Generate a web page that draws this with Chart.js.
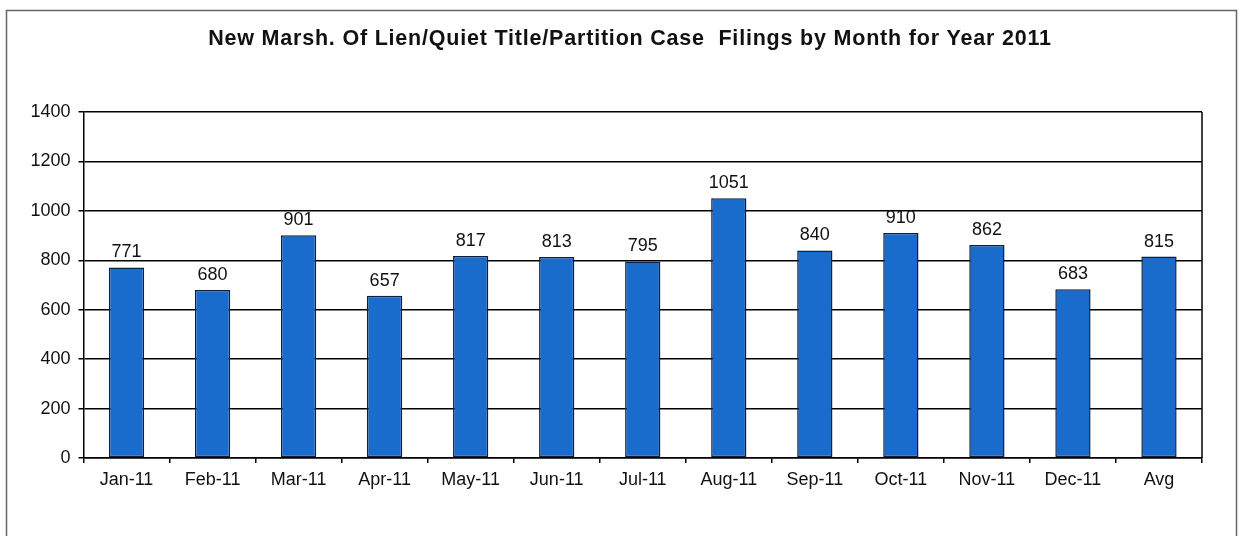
<!DOCTYPE html>
<html>
<head>
<meta charset="utf-8">
<style>
  html, body { margin: 0; padding: 0; background: #fff; }
  #wrap { position: relative; width: 1243px; height: 536px; }
</style>
<script src="https://cdn.jsdelivr.net/npm/chart.js@4/dist/chart.umd.min.js"></script>
</head>
<body>
<div id="wrap"><canvas id="c" width="1243" height="536"></canvas></div>
<script>
const titleText = 'New Marsh. Of Lien/Quiet Title/Partition Case  Filings by Month for Year 2011';
const months = ['Jan-11','Feb-11','Mar-11','Apr-11','May-11','Jun-11','Jul-11','Aug-11','Sep-11','Oct-11','Nov-11','Dec-11','Avg'];
const filings = [771, 680, 901, 657, 817, 813, 795, 1051, 840, 910, 862, 683, 815];
const yMax = 1400;
const yStep = 200;

const fontFam = '"Liberation Sans", Arial, sans-serif';

// outer frame, title, plot frame
const frames = {
  id: 'frames',
  beforeDraw(chart){
    const ctx = chart.ctx;
    ctx.save();
    ctx.strokeStyle = '#666';
    ctx.lineWidth = 1.5;
    ctx.strokeRect(6.5, 10.5, 1230, 600);
    ctx.font = 'bold 21.5px ' + fontFam;
    ctx.letterSpacing = '0.8px';
    ctx.fillStyle = '#111';
    ctx.textAlign = 'center';
    ctx.textBaseline = 'middle';
    ctx.fillText(titleText, 630, 39);
    ctx.restore();
  },
  afterDraw(chart){
    const a = chart.chartArea, ctx = chart.ctx;
    ctx.save();
    ctx.strokeStyle = '#000';
    ctx.lineWidth = 1.5;
    ctx.beginPath();
    ctx.moveTo(a.right, a.top);
    ctx.lineTo(a.right, a.bottom);
    ctx.stroke();
    ctx.restore();
  }
};

// value labels above bars
const valueLabels = {
  id: 'valueLabels',
  afterDatasetsDraw(chart){
    const ctx = chart.ctx;
    const meta = chart.getDatasetMeta(0);
    ctx.save();
    ctx.font = '18px ' + fontFam;
    ctx.fillStyle = '#111';
    ctx.textAlign = 'center';
    ctx.textBaseline = 'bottom';
    meta.data.forEach((bar, i) => {
      ctx.fillText(String(filings[i]), bar.x, bar.y - 6);
    });
    ctx.restore();
  }
};

new Chart(document.getElementById('c'), {
  type: 'bar',
  data: {
    labels: months,
    datasets: [{
      data: filings,
      backgroundColor: '#1a6ccc',
      borderColor: '#0b1f40',
      borderWidth: 1.5,
      borderSkipped: false,
      barPercentage: 0.82,
      categoryPercentage: 0.5
    }]
  },
  options: {
    responsive: false,
    animation: false,
    layout: { padding: { left: 10, right: 41, top: 112, bottom: 0 } },
    plugins: {
      legend: { display: false },
      tooltip: { enabled: false },
      title: { display: false }
    },
    scales: {
      x: {
        grid: { drawOnChartArea: false, drawTicks: true, tickLength: 5, color: '#000', lineWidth: 1.5, offset: true },
        border: { color: '#000', width: 1.5 },
        ticks: { color: '#111', font: { family: fontFam, size: 18 }, padding: 6, maxRotation: 0, autoSkip: false },
        afterFit(scale){ scale.height = 78; }
      },
      y: {
        min: 0,
        max: yMax,
        ticks: { stepSize: yStep, color: '#111', font: { family: fontFam, size: 18 }, padding: 8,
                 callback: v => String(v) },
        grid: { color: '#000', lineWidth: 1.5, tickLength: 5 },
        border: { color: '#000', width: 1.5 },
        afterFit(scale){ scale.width = 73.5; }
      }
    }
  },
  plugins: [frames, valueLabels]
});
</script>
</body>
</html>
